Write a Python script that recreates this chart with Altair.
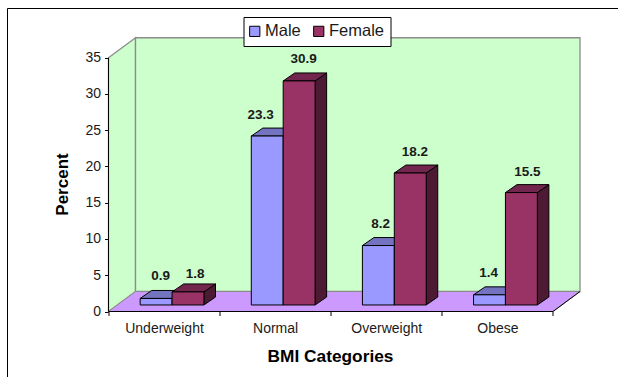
import altair as alt
import pandas as pd

# Survey values: percent of each sex in every BMI category
categories = ["Underweight", "Normal", "Overweight", "Obese"]
male = [0.9, 23.3, 8.2, 1.4]
female = [1.8, 30.9, 18.2, 15.5]
series = ["Male", "Female"]

# Label placement: horizontal position inside a category slot, lift above the bar
male_label_x = [0.47, 0.37, 0.45, 0.42]
female_label_x = [0.78, 0.755, 0.757, 0.77]
male_label_lift = [3.1, 2.9, 2.9, 3.0]
female_label_lift = [2.5, 3.0, 2.9, 2.9]

# Oblique projection, in axis units
WALL_DX, WALL_DY = 0.243, 2.76
BAR_DX, BAR_DY = 0.104, 1.1
BAR_W, BAR_GAP = 0.287, 0.285
BASE = 0.9

FONT = "Liberation Sans"
INK = "#1a1a1a"
x_scale = alt.Scale(domain=[0, 4 + WALL_DX], nice=False, zero=False)
y_scale = alt.Scale(domain=[0, 37.86], nice=False, zero=False)

x_axis = alt.Axis(
    values=[0, 1, 2, 3, 4],
    labelExpr="datum.value < 4 ? " + str(categories) + "[datum.value] : ''",
    labelOffset=55.5, labelAlign="center", labelFont=FONT, labelFontSize=14,
    labelColor=INK, labelPadding=6, tickColor="black", tickSize=4, domain=False,
    grid=False, title="BMI Categories", titleFont=FONT, titleFontSize=17.3,
    titleFontWeight="bold", titleColor="black", titleX=221.5, titleY=36,
)
y_axis = alt.Axis(
    values=[0, 5, 10, 15, 20, 25, 30, 35], labelFont=FONT, labelFontSize=14,
    labelColor=INK, labelPadding=4, tickColor="black", tickSize=4, domain=False,
    grid=False, title="Percent", titleFont=FONT, titleFontSize=17,
    titleFontWeight="bold", titleColor="black", titleX=-37, titleY=147,
)
X = alt.X("x:Q", scale=x_scale, axis=x_axis)
Y = alt.Y("y:Q", scale=y_scale, axis=y_axis, stack=None)
X2 = alt.X2("x2:Q")
Y2 = alt.Y2("y2:Q")


def area_layer(rows, fill, stroke, width):
    return alt.Chart(pd.DataFrame(rows)).mark_area(
        fill=fill, stroke=stroke, strokeWidth=width, interpolate="linear",
        orient="vertical", opacity=1,
    ).encode(x=X, y=Y, y2=Y2, detail="face:N")


def side_rows(values, offset):
    rows = []
    for i, v in enumerate(values):
        x = i + offset + BAR_W
        top = BASE + v
        rows += [
            dict(face=i, x=x, y=top, y2=BASE),
            dict(face=i, x=x + BAR_DX, y=top + BAR_DY, y2=BASE + BAR_DY),
        ]
    return rows


def top_rows(values, offset):
    rows = []
    for i, v in enumerate(values):
        x = i + offset
        t = BASE + v
        rows += [
            dict(face=i, x=x, y=t, y2=t),
            dict(face=i, x=x + BAR_DX, y=t + BAR_DY, y2=t),
            dict(face=i, x=x + BAR_W, y=t + BAR_DY, y2=t),
            dict(face=i, x=x + BAR_W + BAR_DX, y=t + BAR_DY, y2=t + BAR_DY),
        ]
    return rows


def front_layer(values, offset, name):
    rows = [
        dict(series=name, x=i + offset, x2=i + offset + BAR_W, y=BASE + v, y2=BASE)
        for i, v in enumerate(values)
    ]
    return alt.Chart(pd.DataFrame(rows)).mark_rect(stroke="black", strokeWidth=1).encode(
        x=X, x2=X2, y=Y, y2=Y2,
        color=alt.Color(
            "series:N",
            scale=alt.Scale(domain=series, range=["#9999FF", "#993366"]),
            legend=alt.Legend(
                orient="none", legendX=135, legendY=-20, direction="horizontal",
                title=None, fillColor="white", strokeColor="black", padding=6,
                symbolType="square", symbolSize=105, symbolStrokeColor="black",
                symbolStrokeWidth=1, symbolOpacity=1, symbolOffset=-3, labelFont=FONT,
                labelFontSize=16.5, labelColor=INK, columnPadding=10, labelOffset=2,
                zindex=5,
            ),
        ),
    )


def label_layer(values, slots, lifts):
    rows = [
        dict(x=i + slots[i], y=BASE + v + lifts[i], text=f"{v:.1f}")
        for i, v in enumerate(values)
    ]
    return alt.Chart(pd.DataFrame(rows)).mark_text(
        font=FONT, fontSize=13.5, fontWeight="bold", color=INK, baseline="middle"
    ).encode(x=X, y=Y, text="text:N")


def edge(rows, color, width):
    return alt.Chart(pd.DataFrame(rows)).mark_rule(color=color, strokeWidth=width).encode(
        x=X, x2=X2, y=Y, y2=Y2
    )


# Room behind the bars
left_wall = area_layer(
    [dict(face=0, x=0, y=35, y2=0), dict(face=0, x=WALL_DX, y=35 + WALL_DY, y2=WALL_DY)],
    "#CCFFCC", "#8c8c8c", 1.3,
)
back_wall = alt.Chart(
    pd.DataFrame([dict(x=WALL_DX, x2=4 + WALL_DX, y=35 + WALL_DY, y2=WALL_DY)])
).mark_rect(fill="#CCFFCC", stroke="#8c8c8c", strokeWidth=1.3, opacity=1).encode(x=X, x2=X2, y=Y, y2=Y2)
floor = area_layer(
    [
        dict(face=0, x=0, y=0, y2=0),
        dict(face=0, x=WALL_DX, y=WALL_DY, y2=0),
        dict(face=0, x=4, y=WALL_DY, y2=0),
        dict(face=0, x=4 + WALL_DX, y=WALL_DY, y2=WALL_DY),
    ],
    "#CC99FF", "#8c8c8c", 1.0,
)
floor_edges = edge(
    [
        dict(x=0, x2=4, y=0, y2=0),
        dict(x=4, x2=4 + WALL_DX, y=0, y2=WALL_DY),
        dict(x=0, x2=0, y=0, y2=35),
    ],
    "black", 1,
)

# Frame around the figure: only its top and left sides show
frame_top = alt.Chart().mark_rule(color="black", strokeWidth=1).encode(
    x=alt.value(-101), x2=alt.value(510), y=alt.value(-28.5)
)
frame_left = alt.Chart().mark_rule(color="black", strokeWidth=1).encode(
    x=alt.value(-101), y=alt.value(-28.5), y2=alt.value(340)
)

chart = alt.layer(
    frame_top, frame_left,
    left_wall, back_wall, floor, floor_edges,
    area_layer(side_rows(male, BAR_GAP), "#4C4C80", "black", 1),
    area_layer(top_rows(male, BAR_GAP), "#7373BF", "black", 1),
    front_layer(male, BAR_GAP, "Male"),
    area_layer(side_rows(female, BAR_GAP + BAR_W), "#4D1A33", "black", 1),
    area_layer(top_rows(female, BAR_GAP + BAR_W), "#73264D", "black", 1),
    front_layer(female, BAR_GAP + BAR_W, "Female"),
    label_layer(male, male_label_x, male_label_lift),
    label_layer(female, female_label_x, female_label_lift),
).properties(
    width=471.5,
    height=274.5,
    autosize=alt.AutoSizeParams(type="none"),
    padding={"left": 108.5, "top": 37, "right": 38, "bottom": 65.5},
    background="white",
).configure_view(stroke=None)

chart.save("out.html", embed_options={"renderer": "svg", "actions": False})
